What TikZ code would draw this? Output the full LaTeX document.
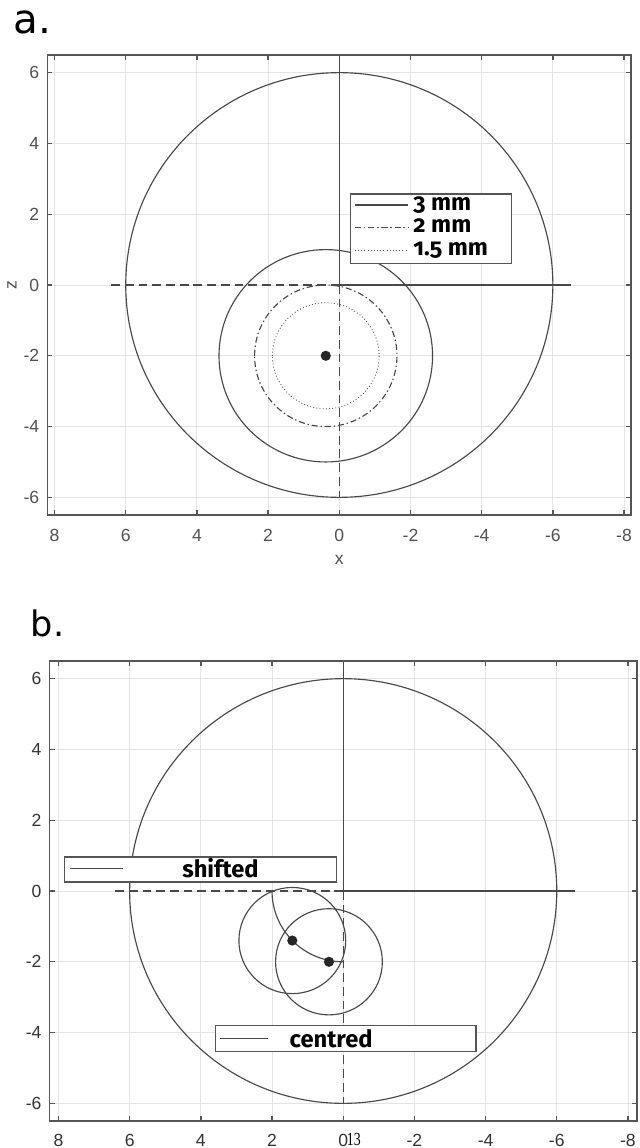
\documentclass[tikz,border=0pt]{standalone}
\usepackage{fontspec}
\usepackage{xcolor}
\usepackage{tikz}
\usetikzlibrary{positioning}
\setmainfont{Liberation Sans}
\newfontfamily\titlefont{DejaVu Sans}
\newfontfamily\legendfont[Numbers=OldStyle]{Fira Sans}
\newfontfamily\pagefont{Liberation Serif}
\definecolor{axiscolor}{RGB}{85,85,85}
\definecolor{gridcolor}{RGB}{228,228,228}
\definecolor{curvecolor}{RGB}{72,72,72}
\definecolor{tickcolor}{RGB}{80,80,80}
\tikzset{
  axbox/.style={draw=axiscolor,line width=0.8pt},
  gridline/.style={draw=gridcolor,line width=0.5pt},
  curve/.style={draw=curvecolor,line width=0.65pt},
  dashline/.style={curve,dash pattern=on 5pt off 2.8pt},
  dashdotline/.style={curve,dash pattern=on 3.5pt off 1.6pt on 0.8pt off 1.6pt},
  dotline/.style={curve,line width=0.5pt,dash pattern=on 0.5pt off 1.3pt},
  legbox/.style={draw=axiscolor,fill=white,line width=0.7pt,inner sep=0pt},
  legtext/.style={font=\legendfont\bfseries\fontsize{13.5}{15}\selectfont,inner sep=0pt,anchor=base west},
  ticklab/.style={font=\fontsize{10}{12}\selectfont,text=tickcolor,inner sep=0pt},
  datadot/.style={circle,fill=black!85,inner sep=0pt,minimum size=5.8pt},
  panelA/.style={shift={(339.3,285)},x={(-0.712cm,0cm)},y={(0cm,0.708cm)}},
  panelB/.style={shift={(343.2,891)},x={(-0.712cm,0cm)},y={(0cm,0.708cm)}}
}

\begin{document}
\begin{tikzpicture}[x=0.02cm,y=-0.02cm]
  \useasboundingbox (0,0) rectangle (639,1148);

  % --- Panel titles ---
  \node[font=\titlefont\fontsize{23}{27}\selectfont,anchor=base west,inner sep=0pt] (A) at (13.5,34) {a.};
  \node[font=\titlefont\fontsize{20}{24}\selectfont,anchor=base west,inner sep=0pt] (B) at (30.5,636.9) {b.};

  % --- Panel a: grid, ticks and labels ---
  \begin{scope}[panelA]
    \foreach \t [count=\i] in {8,6,...,-8} {
      \draw[gridline] (\t,-6.5) -- (\t,6.5);
      \draw[axbox] (\t,-6.5) -- ++(0,0.14);
      \draw[axbox] (\t,6.5) -- ++(0,-0.14);
      \node[ticklab] (xa\i) at (\t,-7.08) {\t};
    }
    \foreach \t [count=\i] in {6,4,...,-6} {
      \draw[gridline] (-8.2,\t) -- (8.2,\t);
      \draw[axbox] (8.2,\t) -- ++(-0.14,0);
      \draw[axbox] (-8.2,\t) -- ++(0.14,0);
      \node[ticklab,anchor=east] (ya\i) at (8.42,\t) {\t};
    }

    % --- Panel a: curves ---
    \draw[curve] (0,0) circle (6);
    \draw[curve] (0.38,-2) circle (3);
    \draw[dashdotline] (0.38,-2) circle (2);
    \draw[dotline] (0.38,-2) circle (1.5);
    \draw[curve] (0,0) -- (0,6.5);
    \draw[curve] (0,0) -- (-6.5,0);
    \draw[dashline] (0,0) -- (6.5,0);
    \draw[dashline] (0,0) -- (0,-6);
    \node[datadot] (ca) at (0.38,-2) {};

    \draw[axbox] (-8.2,-6.5) rectangle (8.2,6.5);
  \end{scope}

  \node[ticklab] (xlab) at (339.3,560) {x};
  \node[ticklab,rotate=90] (zlab) at (12,285) {z};

  % --- Panel a: legend ---
  \node[legbox,anchor=north west,minimum width=3.214cm,minimum height=1.388cm] (legA) at (350,193.3) {};
  \draw[curve] (355,205) -- (408,205);
  \draw[dashdotline] (355,227.7) -- (408,227.7);
  \draw[dotline] (355,250.7) -- (408,250.7);
  \node[legtext] (la1) at (413,210.7) {3 mm};
  \node[legtext] (la2) at (413,232.3) {2 mm};
  \node[legtext] (la3) at (413,255.3) {1.5 mm};

  % --- Panel b: grid, ticks and labels ---
  \begin{scope}[panelB]
    \foreach \t [count=\i] in {8,6,...,-8} {
      \draw[gridline] (\t,-6.5) -- (\t,6.5);
      \draw[axbox] (\t,-6.5) -- ++(0,0.14);
      \draw[axbox] (\t,6.5) -- ++(0,-0.14);
      \node[ticklab,text=black!80] (xb\i) at (\t,-7.04) {\t};
    }
    \foreach \t [count=\i] in {6,4,...,-6} {
      \draw[gridline] (-8.25,\t) -- (8.25,\t);
      \draw[axbox] (8.25,\t) -- ++(-0.14,0);
      \draw[axbox] (-8.25,\t) -- ++(0.14,0);
      \node[ticklab,text=black!80,anchor=east] (yb\i) at (8.47,\t) {\t};
    }

    % --- Panel b: curves ---
    \draw[curve] (0,0) circle (6);
    \draw[curve] (1.43,-1.4) circle (1.5);
    \draw[curve] (0.4,-2) circle (1.5);
    \draw[curve] (2,0) arc[start angle=0,end angle=-90,radius=2];
    \draw[curve] (0,0) -- (0,6.5);
    \draw[curve] (0,0) -- (-6.5,0);
    \draw[dashline] (0,0) -- (6.5,0);
    \draw[dashline] (0,0) -- (0,-6);
    \node[datadot] (cs) at (1.43,-1.4) {};
    \node[datadot] (cc) at (0.4,-2) {};

    \draw[axbox] (-8.25,-6.5) rectangle (8.25,6.5);
  \end{scope}

  \node[font=\pagefont\fontsize{10.5}{12}\selectfont,xscale=0.75,anchor=north west,inner sep=0pt] (pg) at (346.7,1133) {13};

  % --- Panel b: legends ---
  \node[legbox,anchor=north west,minimum width=5.444cm,minimum height=0.5cm] (legS) at (64,856.4) {};
  \draw[curve] (70,868.8) -- (123,868.8);
  \node[legtext] (ls) at (182,877.8) {shifted};

  \node[legbox,anchor=north west,minimum width=5.216cm,minimum height=0.52cm] (legC) at (214.7,1025) {};
  \draw[curve] (220,1038.3) -- (268,1038.3);
  \node[legtext] (lc) at (289.3,1047.4) {centred};

\end{tikzpicture}
\end{document}
